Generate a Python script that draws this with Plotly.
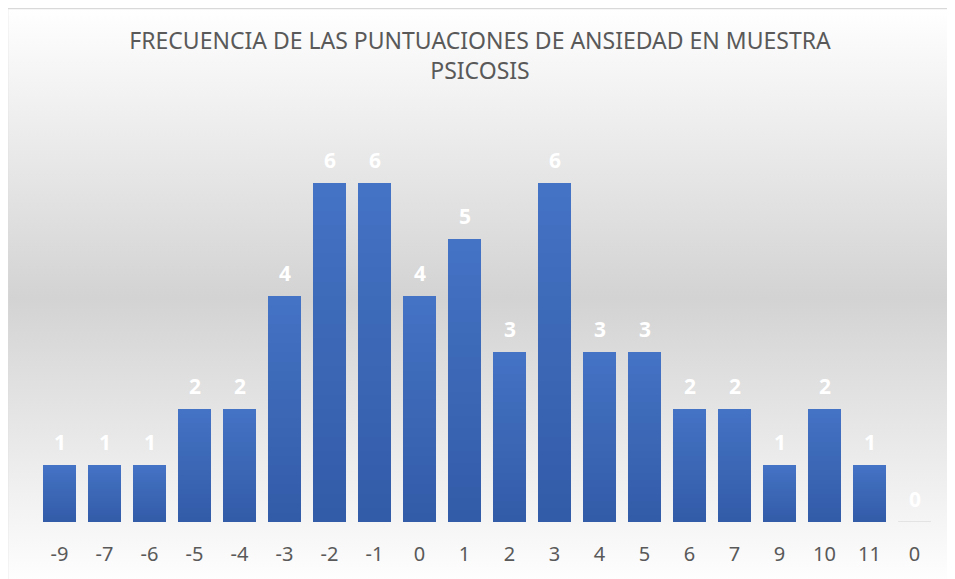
import base64
import plotly.graph_objects as go

categories = ["-9", "-7", "-6", "-5", "-4", "-3", "-2", "-1", "0", "1",
              "2", "3", "4", "5", "6", "7", "9", "10", "11", "0"]
frequencies = [1, 1, 1, 2, 2, 4, 6, 6, 4, 5, 3, 6, 3, 3, 2, 2, 1, 2, 1, 0]
title_text = "FRECUENCIA DE LAS PUNTUACIONES DE ANSIEDAD EN MUESTRA<br>PSICOSIS"

W, H = 955, 579
OFF = 8  # page body margin
PW, PH = 900, 396
ML, MT = 37 - OFF, 126 - OFF
MR, MB = W - ML - PW, H - MT - PH

positions = list(range(len(categories)))

fig = go.Figure()

# gradient bars: stacked slices of each bar, light at top, dark at bottom
N = 24
top_rgb = (68, 114, 196)
bot_rgb = (51, 92, 168)
for k in range(N):
    t = k / (N - 1)
    c = tuple(round(b + (a - b) * t) for a, b in zip(top_rgb, bot_rgb))
    fig.add_trace(go.Bar(
        x=positions,
        y=[v / N for v in frequencies],
        marker=dict(color="rgb(%d,%d,%d)" % c, line=dict(width=0)),
        hoverinfo="skip",
        showlegend=False,
    ))

# zero-height bar outline (last category)
fig.add_trace(go.Scatter(
    x=[positions[-1] - 0.365, positions[-1] + 0.365],
    y=[0, 0],
    mode="lines",
    line=dict(color="#e3e3e3", width=2),
    hoverinfo="skip",
    showlegend=False,
))

for p, v in zip(positions, frequencies):
    fig.add_annotation(
        x=p, y=v, text="<b>%d</b>" % v, showarrow=False,
        yanchor="middle", yshift=23,
        font=dict(family="Noto Sans", size=21, color="white"),
    )

svg = f'''<svg xmlns="http://www.w3.org/2000/svg" width="{W}" height="{H}" viewBox="0 0 {W} {H}">
<defs><linearGradient id="g" x1="0" y1="0" x2="0" y2="1">
<stop offset="0" stop-color="#ffffff"/>
<stop offset="0.5" stop-color="#d3d3d3"/>
<stop offset="1" stop-color="#ffffff"/>
</linearGradient></defs>
<rect x="0" y="0" width="{W}" height="{H}" fill="#ffffff"/>
<rect x="{7.5 - OFF}" y="{8.5 - OFF}" width="{W + 20}" height="{H - 8 + OFF}" fill="url(#g)" stroke="#d9d9d9" stroke-width="1.5"/>
</svg>'''
src = "data:image/svg+xml;base64," + base64.b64encode(svg.encode()).decode()

fig.add_layout_image(dict(
    source=src, xref="paper", yref="paper",
    x=-ML / PW, y=1 + MT / PH, sizex=W / PW, sizey=H / PH,
    xanchor="left", yanchor="top", sizing="stretch", layer="below",
))

fig.update_layout(
    width=W, height=H,
    margin=dict(l=ML, r=MR, t=MT, b=MB),
    barmode="stack",
    bargap=0.27,
    paper_bgcolor="white",
    plot_bgcolor="rgba(0,0,0,0)",
    showlegend=False,
    title=dict(
        text=title_text, x=(ML + PW / 2 - 7) / W, xanchor="center",
        y=1 - 41 / H, yanchor="top", yref="container",
        font=dict(family="Noto Sans", size=23, color="#595959"),
    ),
    xaxis=dict(
        tickmode="array", tickvals=positions, ticktext=categories,
        range=[-0.5, len(categories) - 0.5],
        showgrid=False, zeroline=False, showline=False, ticks="",
        tickfont=dict(family="Noto Sans", size=20, color="#595959"),
        ticklabelstandoff=18,
    ),
    yaxis=dict(
        range=[0, 7], visible=False, showgrid=False, zeroline=False,
    ),
)

fig.write_html("out.html")
